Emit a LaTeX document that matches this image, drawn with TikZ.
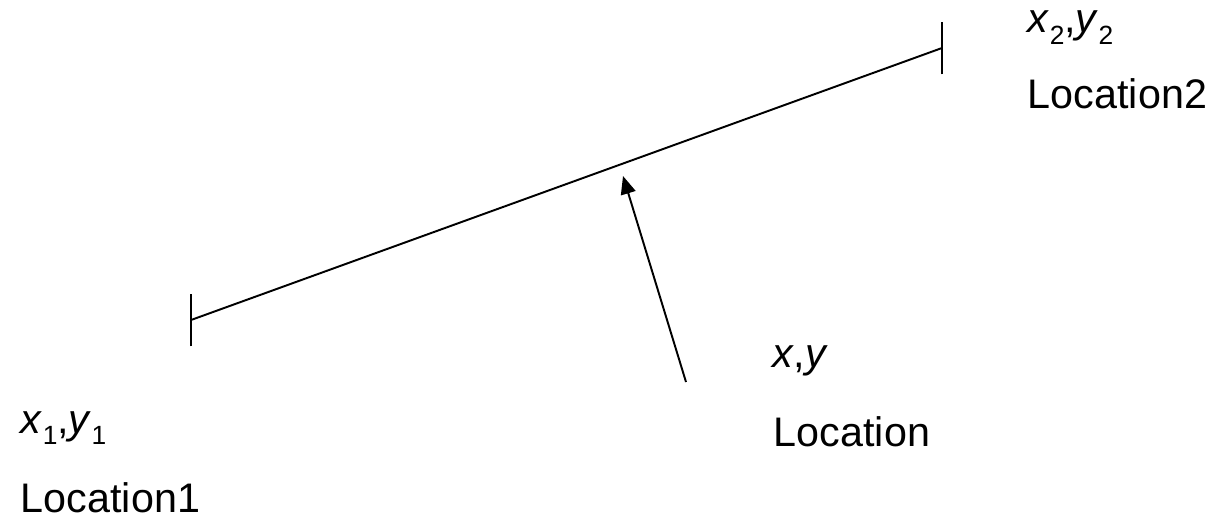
\documentclass[tikz,border=0pt]{standalone}
\usepackage{fontspec}
\setmainfont{Liberation Sans}
\usetikzlibrary{arrows.meta}
\newcommand{\pt}[2]{\textit{#1}\raisebox{-0.28em}{\fontsize{15}{15}\selectfont #2}}

\begin{document}
\begin{tikzpicture}[x=0.02cm, y=-0.02cm, >={Triangle[length=0.36cm,width=0.3cm]}, line width=1.1pt,
		lbl/.style={anchor=base west, inner sep=0pt, font=\fontsize{23.5}{27}\selectfont}]
	\useasboundingbox (0,0) rectangle (1216,517);

	\coordinate (p1) at (191,320);
	\coordinate (p2) at (942,48);
	\coordinate (foot) at (686,382);
	\coordinate (tip) at (623,176);

	% segment with end ticks
	\draw (p1) -- (p2);
	\draw ([yshift=-15]p1) -- ([yshift=15]p1);
	\draw ([yshift=-15]p2) -- ([yshift=15]p2);

	\draw[->] (foot) -- (tip);

	\node[lbl] (xy1) at (20,433) {\pt{x}{1},\pt{y}{1}};
	\node[lbl] (loc1) at (20,512) {Location1};
	\node[lbl] (xy2) at (1027,33) {\pt{x}{2},\pt{y}{2}};
	\node[lbl] (loc2) at (1027,109) {Location2};
	\node[lbl] (xy) at (772,367) {\textit{x},\textit{y}};
	\node[lbl] (loc) at (773,446) {Location};
\end{tikzpicture}
\end{document}
